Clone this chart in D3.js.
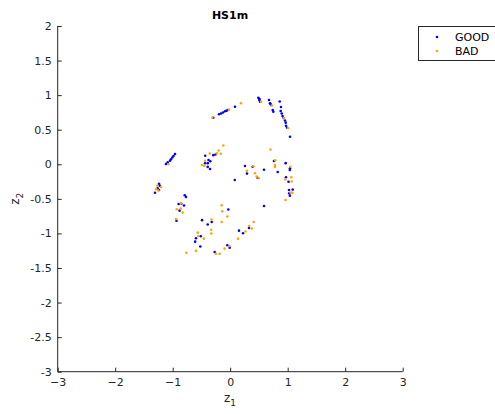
<!DOCTYPE html>
<html>
<head>
<meta charset="utf-8">
<script src="https://cdn.jsdelivr.net/npm/d3@7"></script>
<style>
  html, body { margin: 0; padding: 0; background: #fff; }
  svg { display: block; font-family: "DejaVu Sans", sans-serif; }
</style>
</head>
<body>
<svg id="chart" width="495" height="414"></svg>
<script>
// Two-dimensional embedding (z1, z2) of the HS1m samples, split by label.
const goodZ1 = [-0.294,-0.195,-0.160,-0.125,-0.090,-0.064,-0.043,0.083,
  0.489,0.506,0.518,0.510,
  0.675,0.692,0.710,0.739,0.750,0.701,
  0.861,0.883,0.878,0.896,0.910,0.927,0.953,0.965,0.970,0.988,1.040,
  -0.960,-1.007,-1.030,-1.047,-1.087,-1.118,-0.986,
  -0.435,-0.294,-0.256,-0.377,-0.346,-0.438,-0.390,-0.391,-0.351,
  0.257,0.391,0.292,0.475,0.588,0.080,
  0.762,0.826,0.965,1.040,1.037,0.970,1.014,1.023,1.087,1.026,1.037,
  -1.238,-1.228,-1.263,-1.238,-1.308,
  -0.791,-0.769,
  -0.897,-0.850,-0.803,-0.880,-0.934,
  -0.033,
  -0.490,-0.391,-0.322,
  -0.513,-0.595,-0.609,-0.520,
  -0.270,
  -0.050,-0.009,
  0.153,0.223,0.327,
  0.588];
const goodZ2 = [0.674,0.723,0.735,0.749,0.767,0.775,0.785,0.833,
  0.963,0.930,0.905,0.944,
  0.930,0.882,0.858,0.785,0.761,0.872,
  0.908,0.829,0.771,0.735,0.699,0.670,0.633,0.602,0.558,0.529,0.399,
  0.149,0.098,0.072,0.052,0.029,0.004,0.120,
  0.123,0.132,0.142,0.062,0.043,0.014,0.016,-0.038,-0.068,
  -0.025,-0.035,-0.135,-0.194,-0.080,-0.227,
  0.048,-0.111,0.016,-0.058,-0.082,-0.187,-0.253,-0.372,-0.366,-0.418,-0.454,
  -0.281,-0.308,-0.347,-0.372,-0.411,
  -0.448,-0.473,
  -0.574,-0.570,-0.596,-0.671,-0.816,
  -0.654,
  -0.808,-0.871,-0.835,
  -1.040,-1.070,-1.119,-1.189,
  -1.268,
  -1.172,-1.206,
  -0.960,-0.998,-0.921,
  -0.603];

const badZ1 = [-0.311,-0.021,0.188,0.536,0.723,0.932,1.005,
  -1.075,
  -0.120,-0.203,-0.235,-0.163,-0.355,-0.438,-0.494,-0.450,
  0.701,
  0.289,0.431,0.461,0.497,0.405,
  0.783,0.779,0.779,1.047,0.958,1.063,1.068,1.049,1.080,0.963,
  -1.268,-1.203,-1.287,-1.250,
  -0.856,-0.930,-0.861,-0.826,-0.943,
  -0.148,-0.137,-0.050,-0.148,
  -0.325,-0.330,-0.329,
  -0.565,-0.555,-0.459,-0.595,-0.763,
  -0.247,-0.183,
  -0.012,-0.099,
  0.136,0.266,0.330,0.376,0.409];
const badZ2 = [0.674,0.790,0.882,0.902,0.850,0.665,0.521,
  0.001,
  0.272,0.200,0.159,0.152,0.155,0.052,-0.010,-0.025,
  0.213,
  -0.093,-0.130,-0.178,-0.201,-0.029,
  0.058,-0.010,-0.038,-0.035,-0.220,-0.188,-0.249,-0.409,-0.412,-0.516,
  -0.307,-0.328,-0.360,-0.379,
  -0.566,-0.651,-0.642,-0.697,-0.791,
  -0.594,-0.680,-0.755,-0.835,
  -0.798,-0.947,-1.002,
  -0.989,-1.037,-1.076,-1.253,-1.279,
  -1.294,-1.294,
  -1.182,-1.218,
  -1.076,-0.972,-0.892,-0.929,-0.835];

const xTicks = [-3, -2, -1, 0, 1, 2, 3];
const yTicks = [2, 1.5, 1, 0.5, 0, -0.5, -1, -1.5, -2, -2.5, -3];
const seriesNames = ["GOOD", "BAD"];
const seriesColors = ["#0000ff", "#ffa500"];
const titleText = "HS1m";

const svg = d3.select("#chart");
const axisColor = "#262626";

const x = d3.scaleLinear().domain([-3, 3]).range([57.7, 402.7]);
const y = d3.scaleLinear().domain([-3, 2]).range([371.7, 26]);

// Axes: ticks point into the plot area, only left and bottom spines.
const xAxis = svg.append("g")
  .attr("transform", `translate(0,${y(-3)})`)
  .call(d3.axisBottom(x).tickValues(xTicks).tickSize(-4).tickPadding(7)
    .tickFormat(d3.format("d")));
const yAxis = svg.append("g")
  .attr("transform", `translate(${x(-3)},0)`)
  .call(d3.axisLeft(y).tickValues(yTicks).tickSize(-4).tickPadding(6)
    .tickFormat(d => String(d)));

[xAxis, yAxis].forEach(g => {
  g.select(".domain").attr("stroke", axisColor).attr("stroke-width", 1).attr("d",
    g === xAxis ? `M${x(-3)},0H${x(3)}` : `M0,${y(-3)}V${y(2)}`);
  g.selectAll(".tick line").attr("stroke", axisColor);
  g.selectAll(".tick text").attr("fill", axisColor)
    .style("font-family", "DejaVu Sans, sans-serif").style("font-size", "11px");
});
xAxis.selectAll(".tick text").attr("dy", "0.71em");

// Points
function drawSeries(xs, ys, color) {
  svg.append("g").selectAll("circle")
    .data(xs.map((v, i) => [v, ys[i]]))
    .join("circle")
    .attr("cx", d => x(d[0]))
    .attr("cy", d => y(d[1]))
    .attr("r", 1.3)
    .attr("fill", color);
}
drawSeries(goodZ1, goodZ2, seriesColors[0]);
drawSeries(badZ1, badZ2, seriesColors[1]);

// Title
svg.append("text")
  .attr("x", 230).attr("y", 19)
  .attr("text-anchor", "middle")
  .attr("fill", "#000")
  .style("font-size", "11px").style("font-weight", "bold")
  .text(titleText);

// Axis labels with subscripts
const xl = svg.append("text")
  .attr("x", 230).attr("y", 402)
  .attr("text-anchor", "middle").attr("fill", axisColor)
  .style("font-size", "12px");
xl.append("tspan").text("z");
xl.append("tspan").attr("dy", 4).style("font-size", "9px").text("1");

const yl = svg.append("text")
  .attr("transform", `translate(19,${y(-0.5)}) rotate(-90)`)
  .attr("text-anchor", "middle").attr("fill", axisColor)
  .style("font-size", "12px");
yl.append("tspan").text("z");
yl.append("tspan").attr("dy", 4).style("font-size", "9px").text("2");

// Legend
const lg = svg.append("g").attr("transform", "translate(418,26)");
lg.append("rect")
  .attr("x", 0.5).attr("y", 0.5).attr("width", 90).attr("height", 34)
  .attr("fill", "#fff").attr("stroke", axisColor).attr("stroke-width", 1);
seriesNames.forEach((name, i) => {
  const cy = 11 + i * 14;
  lg.append("circle").attr("cx", 19).attr("cy", cy).attr("r", 1.3)
    .attr("fill", seriesColors[i]);
  lg.append("text").attr("x", 37).attr("y", cy).attr("dy", "0.35em")
    .attr("fill", "#000").style("font-size", "11px").text(name);
});
</script>
</body>
</html>
